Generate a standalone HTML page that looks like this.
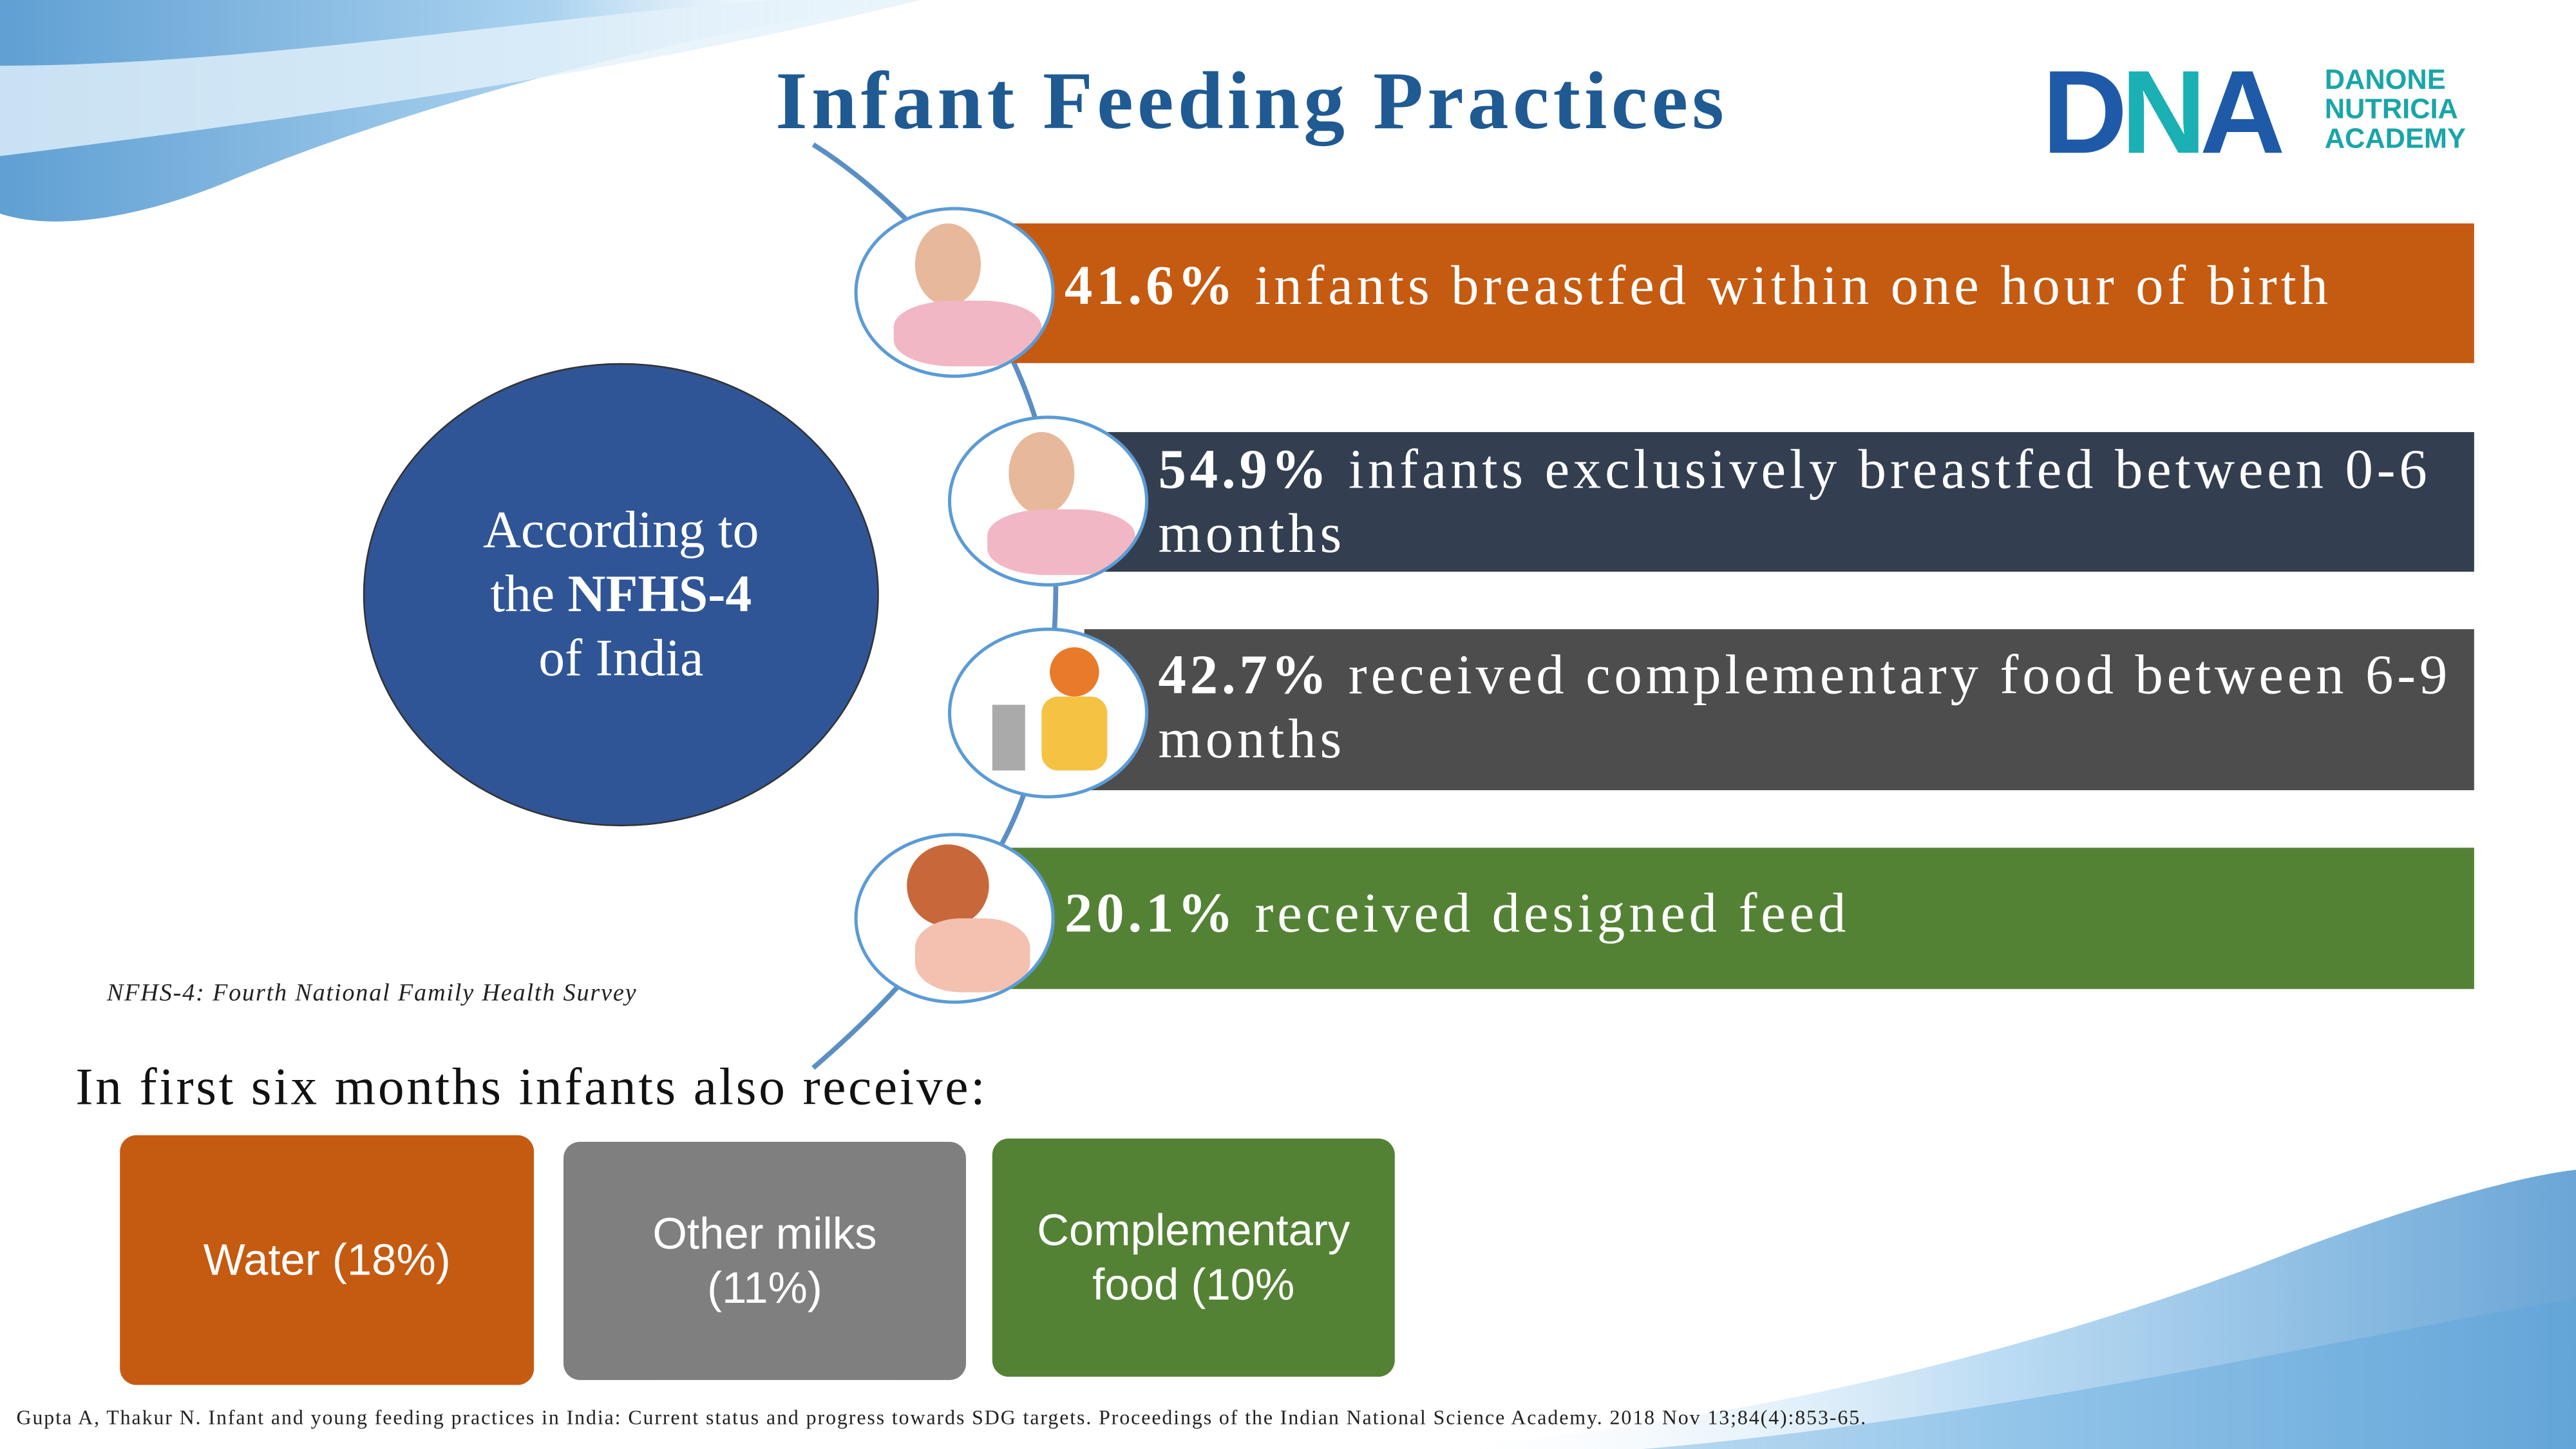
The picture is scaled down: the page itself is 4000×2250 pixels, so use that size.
<!DOCTYPE html>
<html><head><meta charset="utf-8"><style>
html,body{margin:0;padding:0;width:4000px;height:2250px;overflow:hidden;background:#fff}
#s{position:absolute;left:0;top:0;width:1568px;height:882px;transform:scale(2.55102);transform-origin:0 0;font-family:"Liberation Serif",serif}
.a{position:absolute}
.bar{position:absolute;color:#fff;font-size:34px;line-height:39px;letter-spacing:2.3px}
.bar b{font-weight:bold}
.box{position:absolute;color:#fff;font-family:"Liberation Sans",sans-serif;font-size:27px;line-height:33px;text-align:center;display:flex;align-items:center;justify-content:center;border-radius:10px}
.circ{position:absolute;width:118px;height:100px;border-radius:50%;border:2px solid #5b9bd5;background:#fff;overflow:hidden}
</style></head><body>
<div id="s">
<svg class="a" style="left:0;top:0" width="1568" height="882">
<defs>
<linearGradient id="g1" x1="0" y1="0" x2="1" y2="0"><stop offset="0" stop-color="#2a7fc4"/><stop offset="0.6" stop-color="#8ec4ea"/><stop offset="1" stop-color="#ffffff" stop-opacity="0"/></linearGradient>
<linearGradient id="g2" x1="1" y1="0" x2="0" y2="0"><stop offset="0" stop-color="#2a7fc4"/><stop offset="0.5" stop-color="#9fcdee"/><stop offset="1" stop-color="#ffffff" stop-opacity="0"/></linearGradient>
</defs>
<path d="M0 0 L560 0 C420 20 260 60 140 110 C80 135 30 140 0 130 Z" fill="url(#g1)" opacity="0.75"/>
<path d="M0 40 C150 40 330 10 470 0 L560 0 C400 40 200 70 0 95 Z" fill="#e3f1fa" opacity="0.8"/>
<path d="M1568 882 L860 882 C1050 870 1250 820 1400 760 C1480 730 1540 715 1568 712 Z" fill="url(#g2)" opacity="0.7"/>
<path d="M1568 790 C1400 820 1200 865 1000 882 L1568 882 Z" fill="#5aa5db" opacity="0.4"/>
<path d="M495 88 C530 110 560 140 590 175 C620 215 640 270 642 320 C645 390 640 470 600 530 C570 580 530 620 495 650" fill="none" stroke="#5b8fc4" stroke-width="3"/>
</svg>
<div class="a" style="left:472px;top:32px;font-size:50px;font-weight:bold;color:#1f5a93;white-space:nowrap;letter-spacing:2.4px">Infant Feeding Practices</div>
<div class="a" style="left:1243px;top:38px;width:290px;height:62px">
<span class="a" style="left:0;top:-10px;font-family:'Liberation Sans',sans-serif;font-weight:bold;font-size:72px;letter-spacing:-4px;color:#1e5aa8">D<span style="color:#1ab0b4">N</span>A</span>
<span class="a" style="left:172px;top:2px;font-family:'Liberation Sans',sans-serif;font-weight:bold;font-size:17px;line-height:18px;color:#1aa5a8">DANONE<br>NUTRICIA<br>ACADEMY</span>
</div>
<div class="a" style="left:221px;top:221px;width:312px;height:280px;border-radius:50%;background:#2f5597;border:1px solid #333"></div>
<div class="a" style="left:221px;top:303px;width:314px;text-align:center;color:#fff;font-size:32px;line-height:39px">According to<br>the <b>NFHS-4</b><br>of India</div>

<div class="bar" style="left:600px;top:136px;width:906px;height:85px;background:#c55a11"><div style="position:absolute;left:48px;top:19px;white-space:nowrap"><b>41.6%</b> infants breastfed within one hour of birth</div></div>
<div class="bar" style="left:660px;top:263px;width:846px;height:85px;background:#333f50"><div style="position:absolute;left:45px;top:4px;white-space:nowrap"><b>54.9%</b> infants exclusively breastfed between 0-6<br>months</div></div>
<div class="bar" style="left:660px;top:383px;width:846px;height:98px;background:#4d4d4d"><div style="position:absolute;left:45px;top:9px;white-space:nowrap"><b>42.7%</b> received complementary food between 6-9<br>months</div></div>
<div class="bar" style="left:600px;top:516px;width:906px;height:86px;background:#548235"><div style="position:absolute;left:48px;top:21px;white-space:nowrap"><b>20.1%</b> received designed feed</div></div>

<div class="circ" style="left:520px;top:126px"><div class="a" style="left:35px;top:8px;width:40px;height:50px;border-radius:50%;background:#e8b89a"></div><div class="a" style="left:22px;top:55px;width:90px;height:40px;border-radius:40%;background:#f2b7c4"></div></div>
<div class="circ" style="left:577px;top:253px"><div class="a" style="left:35px;top:8px;width:40px;height:50px;border-radius:50%;background:#e8b89a"></div><div class="a" style="left:22px;top:55px;width:90px;height:40px;border-radius:40%;background:#f2b7c4"></div></div>
<div class="circ" style="left:577px;top:382px"><div class="a" style="left:60px;top:10px;width:30px;height:30px;border-radius:50%;background:#e87a2a"></div><div class="a" style="left:55px;top:40px;width:40px;height:45px;background:#f5c243;border-radius:10px"></div><div class="a" style="left:25px;top:45px;width:20px;height:40px;background:#aaa"></div></div>
<div class="circ" style="left:520px;top:507px"><div class="a" style="left:30px;top:5px;width:50px;height:50px;border-radius:50%;background:#c8683a"></div><div class="a" style="left:35px;top:50px;width:70px;height:45px;border-radius:40%;background:#f4c0b0"></div></div>

<div class="a" style="left:65px;top:597px;font-size:15px;font-style:italic;color:#222;white-space:nowrap;letter-spacing:0.7px">NFHS-4: Fourth National Family Health Survey</div>
<div class="a" style="left:46px;top:643px;font-size:32px;color:#111;white-space:nowrap;letter-spacing:1.4px">In first six months infants also receive:</div>

<div class="box" style="left:73px;top:691px;width:252px;height:152px;background:#c55a11">Water (18%)</div>
<div class="box" style="left:343px;top:695px;width:245px;height:145px;background:#7f7f7f">Other milks<br>(11%)</div>
<div class="box" style="left:604px;top:693px;width:245px;height:145px;background:#548235">Complementary<br>food (10%</div>

<div class="a" style="left:10px;top:856px;font-size:12.5px;color:#222;white-space:nowrap;letter-spacing:0.75px">Gupta A, Thakur N. Infant and young feeding practices in India: Current status and progress towards SDG targets. Proceedings of the Indian National Science Academy. 2018 Nov 13;84(4):853-65.</div>
</div>
</body></html>
